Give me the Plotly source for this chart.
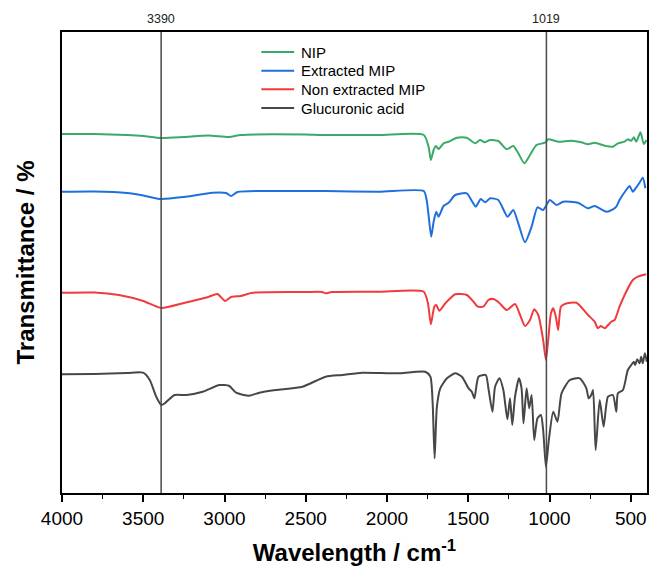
import plotly.graph_objects as go

# FTIR spectra (wavenumber in cm-1, transmittance in offset arbitrary units)
nip_wn = [4000, 3800, 3600, 3500, 3390, 3250, 3100, 2970, 2900, 2500, 2400, 2050, 1774,
          1744, 1730, 1713, 1699, 1683, 1652, 1621, 1570, 1509, 1457, 1427, 1400, 1365,
          1315, 1264, 1223, 1192, 1155, 1120, 1080, 1028, 1008, 947, 865, 804, 763, 722,
          660, 610, 579, 538, 518, 497, 481, 466, 440, 420, 403]
nip_t = [366, 366, 365, 364, 362, 363, 364.5, 363, 365, 365.5, 365, 365, 365,
         353.3, 340, 350, 354, 351, 356.7, 358.3, 362.3, 362.3, 356.7, 360, 357.7, 360,
         359, 350.7, 354, 346.7, 336.7, 345, 355, 357.3, 360.7, 358.3, 359.3, 357.7, 355.7, 357.3,
         354.3, 353.3, 356.7, 358.3, 360.7, 359.3, 362.7, 358.3, 367.7, 356, 360]

ext_wn = [4000, 3800, 3600, 3500, 3390, 3250, 3074, 2990, 2960, 2920, 2600, 2380, 2050, 1774,
          1756, 1741, 1728, 1713, 1697, 1683, 1652, 1621, 1580, 1509, 1478, 1454, 1423, 1396,
          1365, 1315, 1258, 1223, 1192, 1151, 1110, 1074, 1039, 998, 957, 916, 824, 763, 722,
          650, 610, 589, 569, 528, 507, 487, 466, 446, 426, 410]
ext_t = [308.3, 308.5, 307, 304.5, 301, 303, 307.3, 307, 304, 308, 309, 309, 308.3, 309,
         300, 280, 263.3, 278.3, 288.3, 283.3, 294, 297.3, 305, 306.7, 299, 293.3, 301, 297.7,
         301.7, 300, 283.3, 290, 276.7, 257.7, 273.3, 292.7, 290, 300, 295, 298.3, 297.3, 291.7, 294,
         288.3, 290.7, 293.3, 300, 310, 314, 308.3, 312.7, 317.3, 322.3, 311.7]

non_wn = [4000, 3800, 3650, 3500, 3390, 3250, 3100, 3044, 2996, 2960, 2900, 2829, 2500, 2400,
          2377, 2340, 2050, 1774, 1748, 1730, 1709, 1697, 1678, 1641, 1580, 1509, 1468, 1441,
          1407, 1376, 1345, 1310, 1264, 1212, 1181, 1151, 1120, 1094, 1069, 1039, 1022, 1008,
          991, 977, 961, 947, 930, 906, 834, 763, 722, 702, 685, 660, 620, 599, 569, 528,
          487, 456, 405]
non_t = [207.3, 207.5, 205, 199, 192, 197, 203, 206, 199, 203, 204, 207.3, 208, 208,
         206.7, 208, 208.3, 208.3, 196.7, 175.7, 193.3, 195, 189.3, 196.7, 205.7, 205, 198.3, 193.3,
         193.3, 200, 201, 197.3, 190, 196, 185, 174, 180, 190.7, 185, 160, 140, 160,
         186.7, 191.7, 183.3, 170, 193.3, 196, 197.3, 185, 178.3, 171.7, 174, 171.7, 178.3, 180, 193.3, 208.3,
         220, 223.3, 225.7]

glu_wn = [4000, 3800, 3600, 3501, 3460, 3420, 3389, 3368, 3307, 3235, 3134, 3031, 2970, 2929,
          2847, 2786, 2684, 2520, 2377, 2275, 2153, 1989, 1928, 1764, 1733, 1719, 1707, 1693,
          1672, 1631, 1580, 1539, 1498, 1478, 1462, 1437, 1392, 1376, 1351, 1335, 1308, 1284,
          1259, 1243, 1229, 1212, 1188, 1172, 1160, 1141, 1125, 1110, 1094, 1074, 1053, 1039,
          1022, 1004, 977, 951, 926, 875, 814, 773, 759, 743, 732, 716, 691, 667, 640, 610,
          589, 579, 548, 518, 497, 481, 473, 460, 446, 436, 426, 413, 401]
glu_t = [125.7, 126, 127, 127.3, 120, 103.3, 95, 96.7, 105, 105, 108.3, 115, 114, 107.3,
         104.3, 107.3, 110, 113.3, 123.3, 125, 127.3, 126.7, 126.7, 128.3, 123.3, 96.7, 41.7, 93.3,
         111.7, 121.7, 126.7, 123.3, 111.7, 108.3, 101.7, 123.3, 125, 111.7, 88.3, 113.3, 121.7, 110,
         80.7, 101.7, 75, 103.3, 121.7, 111.7, 76.7, 111.7, 91.7, 105, 60, 81.7, 85, 70,
         33.3, 60, 88.3, 78.3, 106.7, 120, 121.7, 111.7, 101.7, 105, 110, 50, 100, 73.3, 103.3, 105,
         88.3, 106.7, 110, 130, 135, 138.3, 135, 140.7, 136.7, 143.3, 136.7, 146.7, 138.3]

series_names = ["NIP", "Extracted MIP", "Non extracted MIP", "Glucuronic acid"]
series_x = [nip_wn, ext_wn, non_wn, glu_wn]
series_y = [nip_t, ext_t, non_t, glu_t]
series_colors = ["#3aaa68", "#1f6fdc", "#f03b3e", "#474747"]

marked_peaks = [3390, 1019]
x_ticks = [4000, 3500, 3000, 2500, 2000, 1500, 1000, 500]
x_minor = [3750, 3250, 2750, 2250, 1750, 1250, 750]

FONT = "Liberation Sans, Arial, sans-serif"

fig = go.Figure()
for name, wn, t, color in zip(series_names, series_x, series_y, series_colors):
    fig.add_trace(go.Scatter(
        x=wn, y=t, name=name, mode="lines", showlegend=False,
        line=dict(color=color, width=2, shape="spline", smoothing=0.6),
    ))

# peak markers with their labels above the frame
for peak in marked_peaks:
    fig.add_shape(type="line", xref="x", yref="paper", x0=peak, x1=peak, y0=0, y1=1,
                  line=dict(color="#4a4a4a", width=1.5))
    fig.add_annotation(x=peak, xref="x", y=1, yref="paper", yanchor="bottom", yshift=4,
                       text=str(peak), showarrow=False,
                       font=dict(size=12.5, color="#222222", family=FONT))

# compact legend: short line sample followed by its label
leg_x0, leg_x1, leg_text_x = 0.3407, 0.3969, 0.4055
leg_top, leg_step = 0.9566, 0.0405
for i, (name, color) in enumerate(zip(series_names, series_colors)):
    yy = leg_top - i * leg_step
    fig.add_shape(type="line", xref="paper", yref="paper", x0=leg_x0, x1=leg_x1, y0=yy, y1=yy,
                  line=dict(color=color, width=2))
    fig.add_annotation(x=leg_text_x, y=yy, xref="paper", yref="paper", xanchor="left",
                       yanchor="middle", text=name, showarrow=False,
                       font=dict(size=15, color="black", family=FONT))

fig.update_layout(
    width=650, height=567,
    margin=dict(l=62, r=1, t=32, b=74),
    plot_bgcolor="white", paper_bgcolor="white",
    font=dict(family=FONT, color="black"),
    showlegend=False,
    xaxis=dict(
        range=[4000, 400], tickvals=x_ticks, ticks="outside", ticklen=7, tickwidth=1.5,
        tickcolor="black", tickfont=dict(size=19),
        minor=dict(tickvals=x_minor, ticks="outside", ticklen=4, tickwidth=1.3, tickcolor="black"),
        showgrid=False, zeroline=False, showline=True, linecolor="black", linewidth=1.5,
        mirror=True,
        title=dict(text="<b>Wavelength / cm<sup>-1</sup></b>", font=dict(size=24), standoff=17),
    ),
    yaxis=dict(
        range=[7, 468], showticklabels=False, ticks="", showgrid=False, zeroline=False,
        showline=True, linecolor="black", linewidth=1.5, mirror=True,
        title=dict(text="<b>Transmittance / %</b>", font=dict(size=24), standoff=19),
    ),
)

fig.write_html("out.html")
